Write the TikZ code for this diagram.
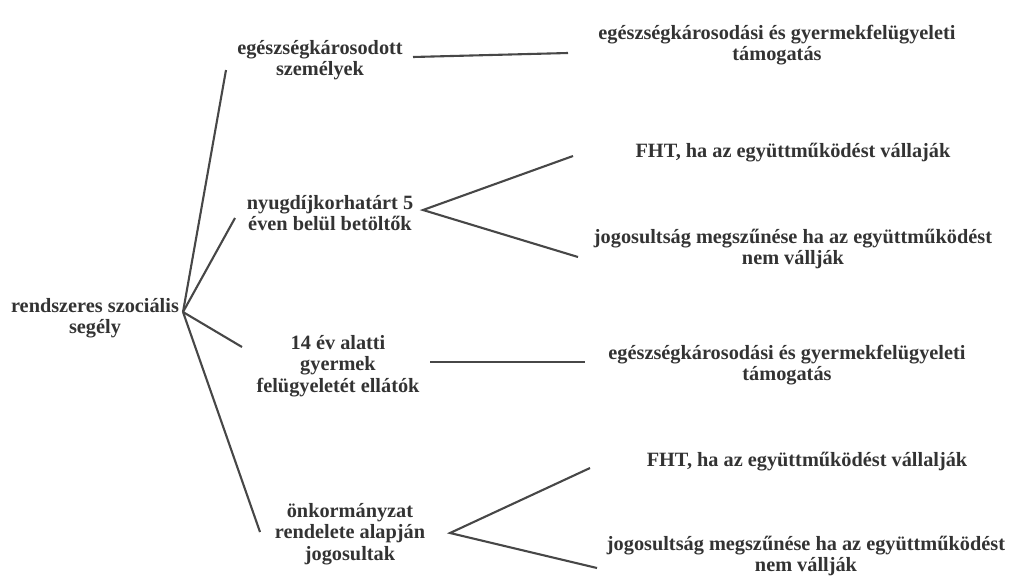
\documentclass[tikz,border=0pt]{standalone}
\usepackage{fontspec}
\setmainfont{Liberation Serif}
\tikzset{
  lbl/.style={align=center, inner sep=0pt, text=black!80,
    font=\bfseries\fontsize{20.3}{21.5}\selectfont},
  link/.style={draw=black!72, line width=2.1pt}
}
\begin{document}
\begin{tikzpicture}[x=1pt, y=-1pt, line width=.5pt]
  \useasboundingbox (0,0) rectangle (1016,579);
  % left column
  \node [lbl] (root) at (95,318) {rendszeres szociális\\segély};
  \coordinate (hub) at ([shift={(88,-6)}]root.center);
  % middle column
  \node [lbl] (egk) at (320,60) {egészségkárosodott\\személyek};
  \node [lbl] (nyk) at (330,213) {nyugdíjkorhatárt 5\\éven belül betöltők};
  \node [lbl] (gyf) at (338,366) {14 év alatti\\gyermek\\felügyeletét ellátók};
  \node [lbl] (onk) at (350,534) {önkormányzat\\rendelete alapján\\jogosultak};
  % right column
  \node [lbl] (tam1) at (777,45) {egészségkárosodási és gyermekfelügyeleti\\támogatás};
  \node [lbl] (fht1) at (793,153) {FHT, ha az együttműködést vállaják};
  \node [lbl] (jog1) at (793,249) {jogosultság megszűnése ha az együttműködést\\nem vállják};
  \node [lbl] (tam2) at (787,365) {egészségkárosodási és gyermekfelügyeleti\\támogatás};
  \node [lbl] (fht2) at (807,462) {FHT, ha az együttműködést vállalják};
  \node [lbl] (jog2) at (806,556) {jogosultság megszűnése ha az együttműködést\\nem vállják};
  % fan from the root
  \coordinate (e1) at ([shift={(-94,10)}]egk.center);
  \coordinate (e2) at ([shift={(-95,5)}]nyk.center);
  \coordinate (e3) at ([shift={(-96,-19)}]gyf.center);
  \coordinate (e4) at ([shift={(-90,-2)}]onk.center);
  \foreach \e in {e1,e2,e3,e4}
    \draw [link] (hub) -- (\e);
  % single branches
  \draw [link] ([shift={(93,-3)}]egk.center) -- ([shift={(-209,8)}]tam1.center);
  \draw [link] ([shift={(92,-4)}]gyf.center) -- ([shift={(-202,-3)}]tam2.center);
  % split branches
  \coordinate (v2) at ([shift={(93,-3)}]nyk.center);
  \coordinate (v4) at ([shift={(100,-1)}]onk.center);
  \draw [link] ([shift={(-220,3)}]fht1.center) -- (v2) -- ([shift={(-215,8)}]jog1.center);
  \draw [link] ([shift={(-217,6)}]fht2.center) -- (v4) -- ([shift={(-209,12)}]jog2.center);
\end{tikzpicture}
\end{document}
